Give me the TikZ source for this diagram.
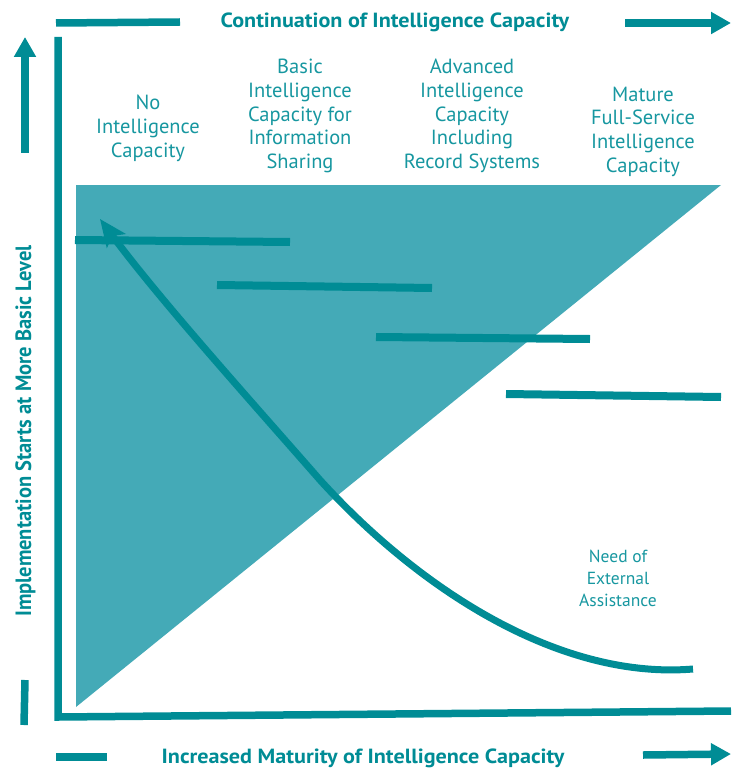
\documentclass[tikz,border=0pt]{standalone}
\usepackage{fontspec}
\setmainfont{PT Sans}
\usetikzlibrary{arrows.meta}

\definecolor{tealline}{HTML}{008C95}
\definecolor{tealfill}{HTML}{44AAB7}
\definecolor{tealtext}{HTML}{1797A0}

\tikzset{
  axis/.style={draw=tealline,line width=7.5pt},
  bar/.style={draw=tealline,line width=8pt},
  bigtip/.style={-{Triangle[length=20pt,width=21pt]}},
  curvetip/.style={-{Stealth[length=27pt,width=23pt,inset=6pt]}},
  level/.style={text=tealtext,align=center,font=\fontsize{20.5}{23.7}\selectfont},
  heading/.style={text=tealline,font=\bfseries\fontsize{20.5}{22}\selectfont,xscale=1.08,inner sep=1pt}
}

\begin{document}
\begin{tikzpicture}[x=1pt,y=-1pt]
\useasboundingbox (0,0) rectangle (731,770);

% shaded wedge
\fill[tealfill] (76,185) -- (721,185) -- (76,707) -- cycle;

% axis ends
\coordinate (topA)   at (56,23);   \coordinate (topB)   at (180,22);
\coordinate (topC)   at (625,23);  \coordinate (topD)   at (731,23);
\coordinate (leftA)  at (25,153);  \coordinate (leftB)  at (25,37);
\coordinate (leftC)  at (25,680);  \coordinate (leftD)  at (24,725);
\coordinate (botA)   at (56,757);  \coordinate (botB)   at (107,757);
\coordinate (botC)   at (643,755); \coordinate (botD)   at (731,754);
\coordinate (frameA) at (58,37);   \coordinate (frameB) at (58,717);
\coordinate (frameC) at (731,711);

\draw[axis] (topA) -- (topB);
\draw[axis,bigtip] (topC) -- (topD);
\draw[axis,bigtip] (leftA) -- (leftB);
\draw[axis] (leftC) -- (leftD);
\draw[axis] (botA) -- (botB);
\draw[axis,bigtip] (botC) -- (botD);
\draw[axis] (frameA) -- (frameB) -- (frameC);

% steps
\draw[bar] (75,240) -- (290,242);
\draw[bar] (217,285) -- (432,288);
\draw[bar] (376,337) -- (590,339);
\draw[bar] (506,394) -- (721,397);

% headings
\node[heading,anchor=base] (top) at (395,28) {Continuation of Intelligence Capacity};
\node[heading,anchor=base] (bottom) at (363,763) {Increased Maturity of Intelligence Capacity};
\node[heading,anchor=base,rotate=90] (side) at (31,431) {Implementation Starts at More Basic Level};

% levels
\node[level] (none)     at (148,128.5) {No\\Intelligence\\Capacity};
\node[level] (basic)    at (300,116)   {Basic\\Intelligence\\Capacity for\\Information\\Sharing};
\node[level] (advanced) at (472,116)   {Advanced\\Intelligence\\Capacity\\Including\\Record Systems};
\node[level] (mature)   at (643,131.5) {Mature\\Full-Service\\Intelligence\\Capacity};
\node[level,font=\fontsize{17.5}{22}\selectfont] (need) at (618,578) {Need of\\External\\Assistance};

% assistance curve
\coordinate (curveA) at (693,669);
\coordinate (curveB) at (100,219);
\draw[axis,line width=7pt,curvetip] (curveA) .. controls (560,680) and (420,590) .. (320,480)
      .. controls (250,400) and (160,300) .. (curveB);
\end{tikzpicture}
\end{document}
